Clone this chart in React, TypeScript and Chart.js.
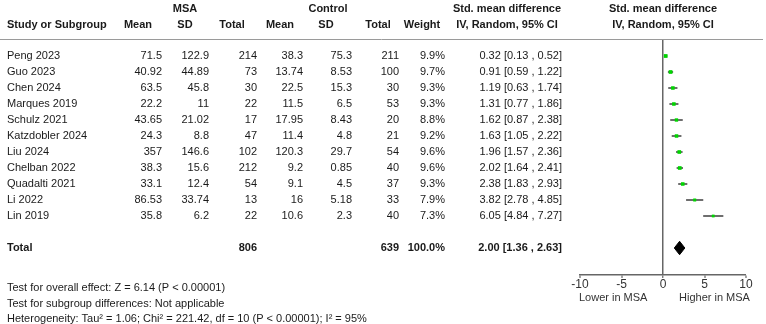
import React, { useEffect, useRef } from "react";
import { Chart, registerables } from "chart.js";

Chart.register(...registerables);

const studies = ["Peng 2023", "Guo 2023", "Chen 2024", "Marques 2019", "Schulz 2021", "Katzdobler 2024", "Liu 2024", "Chelban 2022", "Quadalti 2021", "Li 2022", "Lin 2019"];
const msaMean = [71.5, 40.92, 63.5, 22.2, 43.65, 24.3, 357, 38.3, 33.1, 86.53, 35.8];
const msaSD = [122.9, 44.89, 45.8, 11, 21.02, 8.8, 146.6, 15.6, 12.4, 33.74, 6.2];
const msaN = [214, 73, 30, 22, 17, 47, 102, 212, 54, 13, 22];
const ctrlMean = [38.3, 13.74, 22.5, 11.5, 17.95, 11.4, 120.3, 9.2, 9.1, 16, 10.6];
const ctrlSD = [75.3, 8.53, 15.3, 6.5, 8.43, 4.8, 29.7, 0.85, 4.5, 5.18, 2.3];
const ctrlN = [211, 100, 30, 53, 20, 21, 54, 40, 37, 33, 40];
const weights = [9.9, 9.7, 9.3, 9.3, 8.8, 9.2, 9.6, 9.6, 9.3, 7.9, 7.3];
const smd = [0.32, 0.91, 1.19, 1.31, 1.62, 1.63, 1.96, 2.02, 2.38, 3.82, 6.05];
const ciLow = [0.13, 0.59, 0.63, 0.77, 0.87, 1.05, 1.57, 1.64, 1.83, 2.78, 4.84];
const ciHigh = [0.52, 1.22, 1.74, 1.86, 2.38, 2.22, 2.36, 2.41, 2.93, 4.85, 7.27];

const totalMsaN = 806;
const totalCtrlN = 639;
const totalWeight = 100.0;
const pooled = 2.0;
const pooledLow = 1.36;
const pooledHigh = 2.63;
const totalRow = 12;

const xTicks = [-10, -5, 0, 5, 10];
const footerLines = [
  "Test for overall effect: Z = 6.14 (P < 0.00001)",
  "Test for subgroup differences: Not applicable",
  "Heterogeneity: Tau\u00b2 = 1.06; Chi\u00b2 = 221.42, df = 10 (P < 0.00001); I\u00b2 = 95%",
];
const favourLeft = "Lower in MSA";
const favourRight = "Higher in MSA";

const FONT = '"Liberation Sans", Arial, sans-serif';
const TEXT = "#1a1a1a";

const tablePlugin = {
  id: "forestTable",
  afterDraw(chart: any) {
    const ctx = chart.ctx;
    const y = chart.scales.y;
    const x = chart.scales.x;
    const zeroX = x.getPixelForValue(0);
    ctx.save();
    ctx.fillStyle = TEXT;
    ctx.textBaseline = "middle";

    // header line
    ctx.strokeStyle = "#9a9a9a";
    ctx.lineWidth = 1;
    ctx.beginPath();
    ctx.moveTo(0, 39.5);
    ctx.lineTo(763, 39.5);
    ctx.stroke();

    const bold = `bold 11px ${FONT}`;
    const normal = `11px ${FONT}`;
    const txt = (s: string, px: number, py: number, align: CanvasTextAlign, font: string) => {
      ctx.font = font;
      ctx.textAlign = align;
      ctx.fillText(s, px, py);
    };

    // headers
    txt("MSA", 185, 9, "center", bold);
    txt("Control", 328, 9, "center", bold);
    txt("Std. mean difference", 507, 9, "center", bold);
    txt("Std. mean difference", zeroX, 9, "center", bold);
    txt("Study or Subgroup", 7, 25, "left", bold);
    txt("Mean", 138, 25, "center", bold);
    txt("SD", 185, 25, "center", bold);
    txt("Total", 232, 25, "center", bold);
    txt("Mean", 280, 25, "center", bold);
    txt("SD", 326, 25, "center", bold);
    txt("Total", 378, 25, "center", bold);
    txt("Weight", 422, 25, "center", bold);
    txt("IV, Random, 95% CI", 507, 25, "center", bold);
    txt("IV, Random, 95% CI", zeroX, 25, "center", bold);

    const cols = [162, 209, 257, 303, 352, 399, 445, 562];
    studies.forEach((s, i) => {
      const py = y.getPixelForValue(i);
      txt(s, 7, py, "left", normal);
      txt(String(msaMean[i]), cols[0], py, "right", normal);
      txt(String(msaSD[i]), cols[1], py, "right", normal);
      txt(String(msaN[i]), cols[2], py, "right", normal);
      txt(String(ctrlMean[i]), cols[3], py, "right", normal);
      txt(String(ctrlSD[i]), cols[4], py, "right", normal);
      txt(String(ctrlN[i]), cols[5], py, "right", normal);
      txt(weights[i].toFixed(1) + "%", cols[6], py, "right", normal);
      txt(`${smd[i].toFixed(2)} [${ciLow[i].toFixed(2)} , ${ciHigh[i].toFixed(2)}]`, cols[7], py, "right", normal);
    });

    const ty = y.getPixelForValue(totalRow);
    txt("Total", 7, ty, "left", bold);
    txt(String(totalMsaN), cols[2], ty, "right", bold);
    txt(String(totalCtrlN), cols[5], ty, "right", bold);
    txt(totalWeight.toFixed(1) + "%", cols[6], ty, "right", bold);
    txt(`${pooled.toFixed(2)} [${pooledLow.toFixed(2)} , ${pooledHigh.toFixed(2)}]`, cols[7], ty, "right", bold);

    footerLines.forEach((l, k) => txt(l, 7, 288 + k * 15.5, "left", normal));

    ctx.fillStyle = "#333";
    txt(favourLeft, x.getPixelForValue(-6), 297.5, "center", normal);
    txt(favourRight, x.getPixelForValue(6.2), 297.5, "center", normal);
    ctx.restore();
  },
};

export default function App() {
  const ref = useRef<HTMLCanvasElement>(null);
  useEffect(() => {
    const datasets: any[] = [];
    studies.forEach((s, i) => {
      datasets.push({
        label: s + " CI",
        data: [{ x: ciLow[i], y: i }, { x: ciHigh[i], y: i }],
        showLine: true,
        borderColor: "#6e6e6e",
        borderWidth: 2,
        pointRadius: 0,
        order: 2,
      });
    });
    datasets.push({
      label: "SMD",
      data: studies.map((_, i) => ({ x: smd[i], y: i })),
      pointStyle: "rect",
      pointRadius: weights.map((w) => w * 0.27),
      backgroundColor: "#00d400",
      borderWidth: 0,
      showLine: false,
      order: 0,
    });
    datasets.push({
      label: "Pooled",
      data: [
        { x: pooledLow, y: totalRow },
        { x: pooled, y: totalRow - 0.42 },
        { x: pooledHigh, y: totalRow },
        { x: pooled, y: totalRow + 0.42 },
        { x: pooledLow, y: totalRow },
      ],
      showLine: true,
      fill: "shape",
      backgroundColor: "#000",
      borderColor: "#000",
      borderWidth: 1,
      pointRadius: 0,
      order: 0,
    });

    const chart = new Chart(ref.current as HTMLCanvasElement, {
      type: "scatter",
      data: { datasets },
      options: {
        animation: false,
        responsive: false,
        devicePixelRatio: 1,
        layout: { padding: { left: 580, right: 20, top: 39, bottom: 27 } },
        plugins: { legend: { display: false }, tooltip: { enabled: false } },
        scales: {
          x: {
            type: "linear",
            min: -10,
            max: 10,
            afterBuildTicks: (scale: any) => {
              scale.ticks = xTicks.map((v) => ({ value: v }));
            },
            afterFit: (scale: any) => {
              scale.height = 22;
            },
            ticks: { font: { size: 12, family: FONT }, color: "#333", padding: -1 },
            grid: {
              color: (c: any) => (c.tick && c.tick.value === 0 ? "#666" : "rgba(0,0,0,0)"),
              lineWidth: (c: any) => (c.tick && c.tick.value === 0 ? 1.5 : 0),
              tickColor: "#666",
              tickLength: 3,
              tickWidth: 1.2,
            },
            border: { display: true, color: "#666", width: 1.5 },
          },
          y: {
            type: "linear",
            display: false,
            reverse: true,
            min: -1.0625,
            max: 13.6875,
          },
        },
      },
      plugins: [tablePlugin],
    });
    return () => chart.destroy();
  }, []);
  return (
    <div style={{ position: "fixed", left: 0, top: 0, width: 766, height: 324, background: "#fff" }}>
      <canvas ref={ref} width={766} height={324} />
    </div>
  );
}
